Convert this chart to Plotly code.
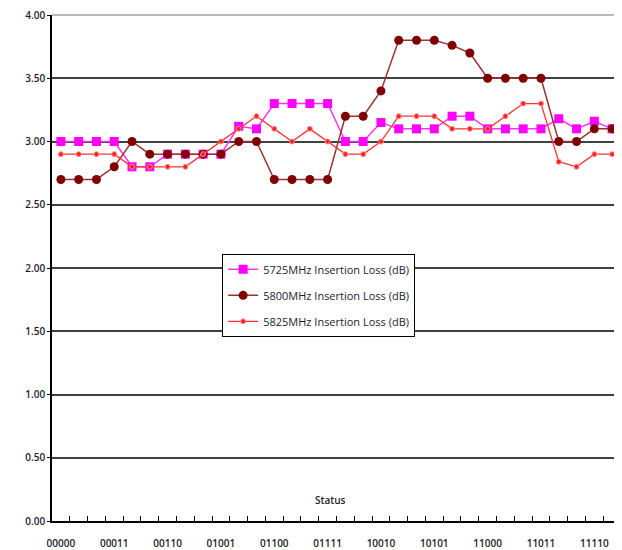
import plotly.graph_objects as go

categories = [format(i, "05b") for i in range(32)]
tick_labels = [c if i % 3 == 0 else "" for i, c in enumerate(categories)]

loss_5725 = [3.00, 3.00, 3.00, 3.00, 2.80, 2.80, 2.90, 2.90, 2.90, 2.90, 3.12, 3.10,
             3.30, 3.30, 3.30, 3.30, 3.00, 3.00, 3.15, 3.10, 3.10, 3.10, 3.20, 3.20,
             3.10, 3.10, 3.10, 3.10, 3.18, 3.10, 3.16, 3.10]
loss_5800 = [2.70, 2.70, 2.70, 2.80, 3.00, 2.90, 2.90, 2.90, 2.90, 2.90, 3.00, 3.00,
             2.70, 2.70, 2.70, 2.70, 3.20, 3.20, 3.40, 3.80, 3.80, 3.80, 3.76, 3.70,
             3.50, 3.50, 3.50, 3.50, 3.00, 3.00, 3.10, 3.10]
loss_5825 = [2.90, 2.90, 2.90, 2.90, 2.80, 2.80, 2.80, 2.80, 2.90, 3.00, 3.10, 3.20,
             3.10, 3.00, 3.10, 3.00, 2.90, 2.90, 3.00, 3.20, 3.20, 3.20, 3.10, 3.10,
             3.10, 3.20, 3.30, 3.30, 2.84, 2.80, 2.90, 2.90]

y_ticks = [0, 0.5, 1.0, 1.5, 2.0, 2.5, 3.0, 3.5, 4.0]

font_family = "Open Sans, Lato, sans-serif"
txt_color = "#1c1c30"

fig = go.Figure()
fig.add_trace(go.Scatter(
    x=categories, y=loss_5725, mode="lines+markers",
    name="5725MHz Insertion Loss (dB)", legendgroup="a",
    line=dict(color="#FF33FF", width=1.5),
    marker=dict(symbol="square", size=9, color="#FF00FF"),
))
fig.add_trace(go.Scatter(
    x=categories, y=loss_5800, mode="lines+markers",
    name="5800MHz Insertion Loss (dB)", legendgroup="b",
    line=dict(color="#993333", width=1.5),
    marker=dict(symbol="circle", size=9, color="#800000"),
))
fig.add_trace(go.Scatter(
    x=categories, y=loss_5825, mode="lines+markers",
    name="5825MHz Insertion Loss (dB)", legendgroup="c",
    line=dict(color="#FF3333", width=1.3),
    marker=dict(symbol="circle", size=5, color="#FF2020",
                line=dict(color="#FF9090", width=1)),
))

fig.update_layout(
    width=614, height=542,
    margin=dict(l=44, r=1, t=7, b=29),
    paper_bgcolor="white", plot_bgcolor="white",
    font=dict(family=font_family, size=10, color=txt_color),
    showlegend=True,
    legend=dict(
        x=0.299, y=0.528, xanchor="left", yanchor="top",
        bgcolor="white", bordercolor="black", borderwidth=1,
        font=dict(size=11, color=txt_color),
        tracegroupgap=7, itemwidth=30,
    ),
    xaxis=dict(
        type="category", categoryorder="array", categoryarray=categories,
        tickmode="array", tickvals=categories, ticktext=tick_labels,
        tickson="boundaries", ticks="inside", ticklen=5, tickcolor="black",
        showline=True, linecolor="black", linewidth=1.5,
        showgrid=False, range=[-0.5, 31.5], tickangle=0, automargin=False,
        tickfont=dict(size=10, weight=600, color=txt_color),
        ticklabelstandoff=12, ticklabeloverflow="allow",
    ),
    yaxis=dict(
        range=[0, 4], tickmode="array", tickvals=y_ticks,
        tickformat=".2f", ticks="outside", ticklen=3, tickcolor="black",
        showline=True, linecolor="black", linewidth=1.5,
        showgrid=True, gridcolor="#404040", gridwidth=1.5,
        zeroline=False, automargin=False, ticklabeloverflow="allow",
        tickfont=dict(size=10, weight=600, color=txt_color),
    ),
    annotations=[dict(
        text="Status", xref="paper", yref="paper", x=0.489, y=0.024,
        showarrow=False, font=dict(size=10, color=txt_color, weight=600),
    )],
    shapes=[
        dict(type="line", xref="paper", yref="paper", x0=0, x1=1, y0=1, y1=1,
             line=dict(color="#a0a0a0", width=1.5), layer="above"),
        dict(type="line", xref="paper", yref="paper", x0=1, x1=1, y0=0, y1=1,
             line=dict(color="#c8c8c8", width=1.5), layer="above"),
    ],
)

fig.write_html("out.html")
